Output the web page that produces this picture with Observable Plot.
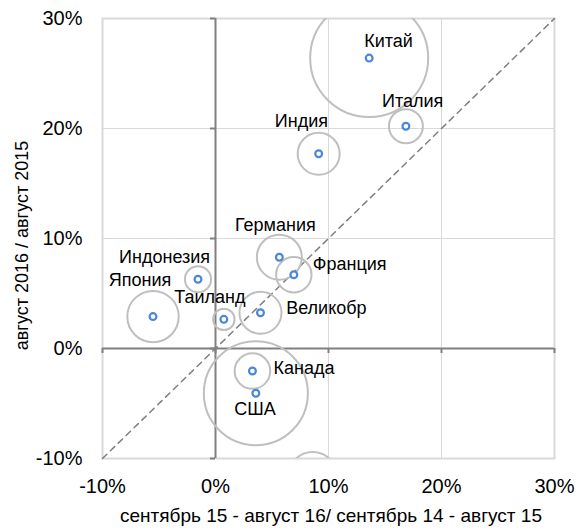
<!DOCTYPE html>
<html>
<head>
<meta charset="utf-8">
<script src="https://cdn.jsdelivr.net/npm/d3@7"></script>
<script src="https://cdn.jsdelivr.net/npm/@observablehq/plot@0.6"></script>
<style>
  html, body { margin: 0; padding: 0; background: #fff; }
  svg { display: block; }
</style>
</head>
<body>
<div id="chart"></div>
<script>
// ---- data ----
const countries = ["Китай", "Италия", "Индия", "Германия", "Франция", "Великобр", "Таиланд", "Индонезия", "Япония", "Канада", "США", "Россия"];
const growthPrev = [13.6, 16.85, 9.13, 5.65, 6.93, 3.98, 0.74, -1.55, -5.53, 3.27, 3.57, 8.6];   // x, %
const growthAug  = [26.4, 20.2, 17.7, 8.3, 6.7, 3.25, 2.65, 6.3, 2.9, -2.05, -4.07, -11.6];     // y, %
const volume     = [100, 8.3, 12.7, 14.5, 9.0, 12.7, 3.3, 4.9, 19, 9.1, 77.7, 16.8];            // bubble size
const tickValues = [-10, 0, 10, 20, 30];

// ---- label layout (offsets from the point, px) ----
const labelDx     = [19.4, 6.7, -17.3, -4, 19, 25.7, -14, -33.4, -13, 21, -0.9, 0];
const labelDy     = [-16.7, -25, -32.3, -32.3, -10.7, -4.4, -22.6, -22.3, -36.7, -2.7, 16, 0];
const labelAnchor = ["middle", "middle", "middle", "middle", "start", "start", "middle", "middle", "middle", "start", "middle", "middle"];

const data = countries.map((name, i) => ({name, x: growthPrev[i], y: growthAug[i], size: volume[i], i}));
const fmt = d => d + "%";
const FONT = "'Liberation Sans', Arial, sans-serif";
const [lo, hi] = d3.extent(tickValues);

// labels only for points inside the plotted range (as in the source chart)
const labelMarks = data
  .filter(d => d.x >= lo && d.x <= hi && d.y >= lo && d.y <= hi)
  .map(d => Plot.text([d], {
    x: "x", y: "y", text: "name", fontSize: 18, fill: "#000",
    dx: labelDx[d.i], dy: labelDy[d.i], textAnchor: labelAnchor[d.i], lineAnchor: "middle"
  }));

const chart = Plot.plot({
  width: 586,
  height: 529,
  marginLeft: 102,
  marginRight: 32,
  marginTop: 18,
  marginBottom: 71,
  style: {fontFamily: FONT, color: "#000", background: "#fff"},
  x: {domain: [lo, hi]},
  y: {domain: [lo, hi]},
  r: {type: "sqrt", domain: [0, 100], range: [0, 59]},
  marks: [
    // grid
    Plot.ruleX([10, 20], {stroke: "#d9d9d9", strokeWidth: 1}),
    Plot.ruleY([10, 20], {stroke: "#d9d9d9", strokeWidth: 1}),
    Plot.frame({stroke: "#d9d9d9", strokeWidth: 2}),
    // zero axes with tick marks
    Plot.ruleX([0], {stroke: "#808080", strokeWidth: 2}),
    Plot.ruleY([0], {stroke: "#808080", strokeWidth: 2}),
    Plot.ruleX(tickValues, {x: d => d, y1: 0, y2: 0, insetBottom: -5, stroke: "#808080", strokeWidth: 2}),
    Plot.ruleY(tickValues, {y: d => d, x1: 0, x2: 0, insetLeft: -5, stroke: "#808080", strokeWidth: 2}),
    // axes
    Plot.axisX({ticks: tickValues, tickFormat: fmt, tickSize: 0, tickPadding: 20, fontSize: 20, label: null, fill: "#000"}),
    Plot.axisY({ticks: tickValues, tickFormat: fmt, tickSize: 0, tickPadding: 20, fontSize: 20, label: null, fill: "#000"}),
    // diagonal y = x
    Plot.line([[lo, lo], [hi, hi]], {x: d => d[0], y: d => d[1], stroke: "#7f7f7f", strokeWidth: 1.5, strokeDasharray: "6,5"}),
    // bubbles
    Plot.dot(data, {x: "x", y: "y", r: "size", stroke: "#bfbfbf", strokeWidth: 2, fill: "none", clip: true}),
    // markers
    Plot.dot(data, {x: "x", y: "y", r: 3.4, stroke: "#4a86dc", strokeWidth: 2.2, fill: "#fff", clip: true}),
    // labels
    ...labelMarks,
    // axis titles
    Plot.text(["сентябрь 15 - август 16/ сентябрь 14 - август 15"], {
      frameAnchor: "bottom", dx: 2.5, dy: 57, textAnchor: "middle", lineAnchor: "middle", fontSize: 19, fill: "#000"
    }),
    Plot.text(["август 2016 / август 2015"], {
      frameAnchor: "left", dx: -80.5, dy: 7, rotate: -90, textAnchor: "middle", lineAnchor: "middle", fontSize: 18, fill: "#000"
    })
  ]
});

document.getElementById("chart").appendChild(chart);
</script>
</body>
</html>
